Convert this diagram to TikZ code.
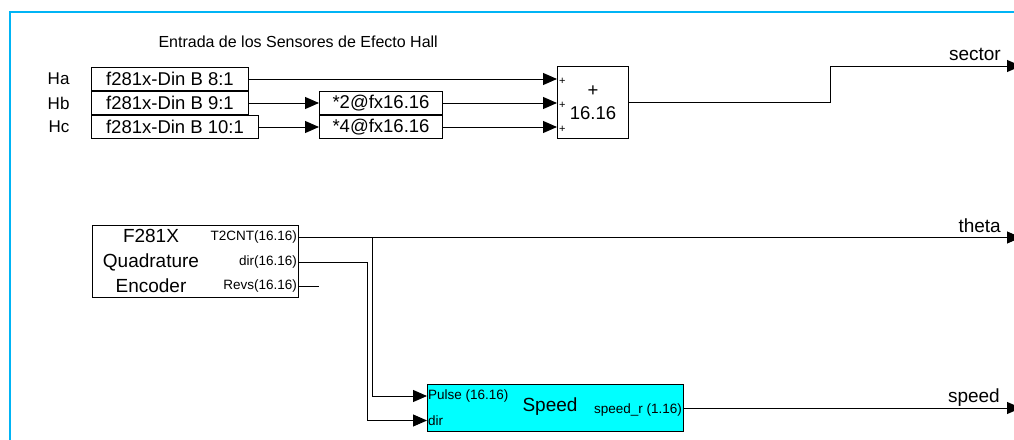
\documentclass[tikz,border=0pt]{standalone}
\usepackage{fontspec}
\setmainfont{Liberation Sans}
\usepackage{tikz}
\usetikzlibrary{arrows.meta, positioning, calc}
\definecolor{framecol}{RGB}{0,180,245}
\definecolor{speedfill}{RGB}{0,255,255}

\begin{document}
\begin{tikzpicture}[
        x=1pt, y=-1pt,
        blk/.style     ={draw=black, line width=1pt, inner sep=0pt, fill=white},
        din/.style     ={blk, minimum height=23pt, font=\fontsize{18.5}{20}\selectfont},
        gain/.style    ={blk, minimum width=123pt, minimum height=23pt, font=\fontsize{18.5}{20}\selectfont},
        port/.style    ={inner sep=2pt, font=\fontsize{13.5}{16}\selectfont},
        plusmark/.style={inner sep=1pt, font=\fontsize{11}{11}\selectfont},
        inlbl/.style   ={font=\fontsize{17}{20}\selectfont},
        outlbl/.style  ={inner sep=0pt, font=\fontsize{19}{22}\selectfont},
        sig/.style     ={line width=1pt, -{Triangle[length=14pt, width=12pt]}},
        wire/.style    ={line width=1pt},
        frame/.style   ={draw=framecol, line width=2.5pt}
    ]

    \useasboundingbox (0,0) rectangle (1014,439);
    \fill[white] (0,0) rectangle (1014,439);
    \clip (0,0) rectangle (1014,439);
    \draw[frame] (10,445) -- (10,12) -- (1020,12);

    % --- sensores Hall ---
    \node[anchor=west, font=\fontsize{16}{19}\selectfont] (title) at (155,42) {Entrada de los Sensores de Efecto Hall};

    \node[din, minimum width=157pt, anchor=north west] (ha) at (91,67) {f281x-Din B 8:1};
    \node[din, minimum width=157pt, below=0pt of ha.south west, anchor=north west] (hb) {f281x-Din B 9:1};
    \node[din, minimum width=167pt, below=0pt of hb.south west, anchor=north west] (hc) {f281x-Din B 10:1};

    \node[inlbl, left=18pt of ha] (lblha) {Ha};
    \node[inlbl, left=18pt of hb] (lblhb) {Hb};
    \node[inlbl, left=18pt of hb.west |- hc.west] (lblhc) {Hc};

    \node[gain, right=70pt of hb] (g2) {*2@fx16.16};
    \node[gain, right=60pt of hc] (g4) {*4@fx16.16};

    \node[blk, minimum width=71pt, minimum height=72pt, align=center,
          font=\fontsize{18.5}{23}\selectfont, anchor=north west] (sum) at (557,66) {+\\16.16};

    % --- encoder y speed ---
    \node[blk, minimum width=206pt, minimum height=72pt, anchor=north west] (enc) at (92,225) {};
    \node[align=center, font=\fontsize{19}{25}\selectfont] (enctxt) at (151,261) {F281X\\Quadrature\\Encoder};
    \node[port, anchor=east] (t2cnt) at ($(enc.north east)+(0,12.5)$) {T2CNT(16.16)};
    \node[port, anchor=east] (dirp)  at ($(enc.north east)+(0,37)$) {dir(16.16)};
    \node[port, anchor=east] (revs)  at ($(enc.north east)+(0,61)$) {Revs(16.16)};

    \node[blk, fill=speedfill, minimum width=256pt, minimum height=47pt, anchor=north west] (spd) at (427,384) {};
    \node[port, inner sep=1pt, anchor=west] (pin)   at ($(spd.north west)+(0,12)$) {Pulse (16.16)};
    \node[port, inner sep=1pt, anchor=west] (dirin) at ($(spd.north west)+(0,36.5)$) {dir};
    \node[inner sep=0pt, font=\fontsize{19}{22}\selectfont] (spdtxt) at (550,407) {Speed};
    \node[port, anchor=east] (sout) at ($(spd.east)+(0,2)$) {speed\_r (1.16)};

    % --- salidas ---
    \coordinate (sbend) at (830,66);
    \coordinate (sectorout) at (1021,66);
    \coordinate (thetaout) at (t2cnt.east -| sectorout);
    \coordinate (speedout) at (spd.east -| sectorout);
    \path (t2cnt.east) ++(73,0) coordinate (tap1);
    \path (dirp.east) ++(68,0) coordinate (tap2);

    % --- senales ---
    \draw[sig] (ha.east) -- (ha.east -| sum.west);
    \draw[sig] (hb.east) -- (g2.west);
    \draw[sig] (hc.east) -- (g4.west);
    \draw[sig] (g2.east) -- (g2.east -| sum.west);
    \draw[sig] (g4.east) -- (g4.east -| sum.west);
    \foreach \src in {ha, g2, g4}
        \node[plusmark, anchor=west] at ($(\src.east -| sum.west)+(1,2)$) {+};

    \draw[sig] (sum.east) -| (sbend) -- (sectorout);
    \draw[sig] (t2cnt.east) -- (thetaout);
    \draw[sig] (tap1) |- (pin.west);
    \draw[sig] (dirp.east) -- (tap2) |- (dirin.west);
    \draw[wire] (revs.east) -- ++(20,0) coordinate (revsend);
    \draw[sig] (spd.east) -- (speedout);

    \node[outlbl, above left=5pt and 20pt of sectorout] (lblsector) {sector};
    \node[outlbl, above left=5pt and 20pt of thetaout] (lbltheta) {theta};
    \node[outlbl, above left=1pt and 21pt of speedout] (lblspeed) {speed};

\end{tikzpicture}
\end{document}
